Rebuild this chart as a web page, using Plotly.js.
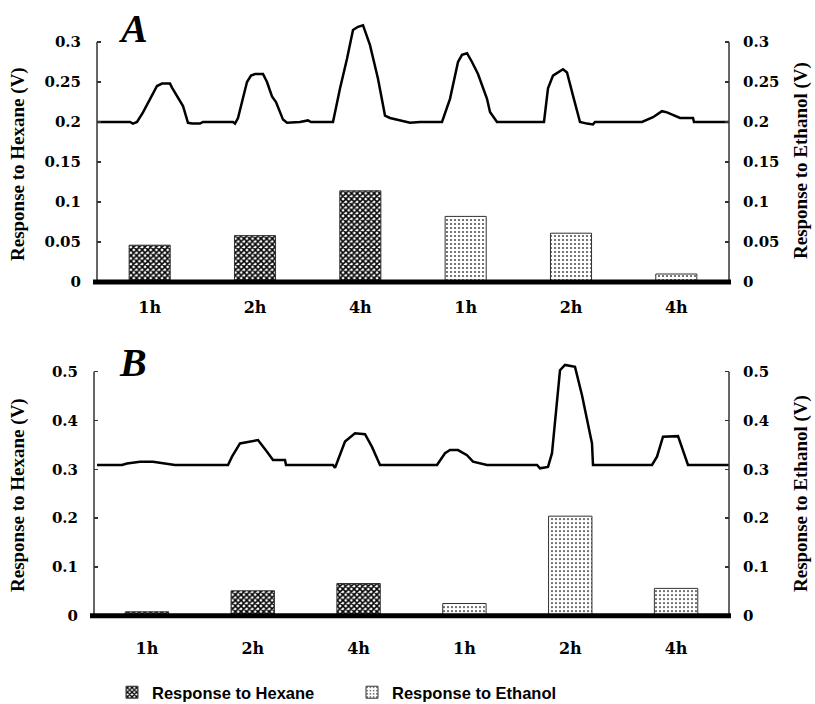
<!DOCTYPE html>
<html>
<head>
<meta charset="utf-8">
<script src="https://cdn.plot.ly/plotly-3.0.1.min.js"></script>
<style>
  html, body { margin: 0; padding: 0; background: #fff; }
  #chart { width: 815px; height: 704px; }
</style>
</head>
<body>
<div id="chart"></div>
<script>
// Sensor responses after 1, 2 and 4 h exposure, two samples (A, B)
const categories = ['1h', '2h', '4h', '1h', '2h', '4h'];
const hexanePos = [0, 1, 2];
const ethanolPos = [3, 4, 5];

// Panel A bar heights (V)
const hexaneA = [0.046, 0.058, 0.114];
const ethanolA = [0.082, 0.061, 0.010];
// Panel B bar heights (V)
const hexaneB = [0.008, 0.051, 0.066];
const ethanolB = [0.025, 0.204, 0.056];

// Raw sensor trace, panel A (time index, volts)
const traceTimeA = [0, 33, 36, 40, 46, 60, 65, 73, 75, 83, 86, 91, 95, 103, 106,
  136, 138, 141, 150, 154, 158, 166, 170, 175, 179, 186, 190, 203, 211, 214,
  235, 236, 243, 250, 256, 261, 266, 273, 281, 288, 293, 303, 313, 323,
  345, 353, 361, 365, 370, 375, 381, 390, 393, 400,
  447, 451, 456, 466, 470, 476, 483, 490, 496, 498,
  545, 556, 565, 570, 583, 596, 597, 632];
const traceVoltA = [0.2, 0.2, 0.198, 0.2, 0.212, 0.245, 0.248, 0.248, 0.243, 0.225, 0.22, 0.199, 0.198, 0.198, 0.2,
  0.2, 0.198, 0.205, 0.25, 0.258, 0.26, 0.26, 0.25, 0.232, 0.225, 0.203, 0.199, 0.2, 0.202, 0.2,
  0.2, 0.2, 0.242, 0.279, 0.315, 0.319, 0.321, 0.296, 0.254, 0.208, 0.205, 0.202, 0.199, 0.2,
  0.2, 0.229, 0.275, 0.284, 0.286, 0.275, 0.26, 0.229, 0.2125, 0.2,
  0.2, 0.242, 0.258, 0.266, 0.262, 0.233, 0.2, 0.198, 0.197, 0.2,
  0.2, 0.206, 0.2135, 0.212, 0.205, 0.205, 0.2, 0.2];

// Raw sensor trace, panel B (time index, volts)
const traceTimeB = [3, 28, 33, 46, 59, 69, 81,
  134, 138, 146, 156, 164, 173, 179, 191, 192,
  239, 241, 244, 251, 261, 271, 278, 286,
  343, 351, 356, 364, 373, 379, 393,
  443, 446, 454, 458, 463, 466, 471, 481, 488, 493, 498, 499,
  558, 563, 569, 584, 594, 635];
const traceVoltB = [0.309, 0.309, 0.312, 0.3156, 0.3156, 0.313, 0.309,
  0.309, 0.326, 0.353, 0.357, 0.36, 0.336, 0.319, 0.319, 0.309,
  0.309, 0.303, 0.319, 0.357, 0.374, 0.372, 0.346, 0.309,
  0.309, 0.333, 0.3395, 0.3395, 0.329, 0.3156, 0.309,
  0.309, 0.302, 0.305, 0.333, 0.442, 0.503, 0.514, 0.51, 0.452, 0.401, 0.353, 0.309,
  0.309, 0.326, 0.367, 0.368, 0.309, 0.309];

// Axis ticks
const tickValsA = [0, 0.05, 0.1, 0.15, 0.2, 0.25, 0.3];
const tickTextA = ['0', '0.05', '0.1', '0.15', '0.2', '0.25', '0.3'];
const tickValsB = [0, 0.1, 0.2, 0.3, 0.4, 0.5];
const tickTextB = ['0', '0.1', '0.2', '0.3', '0.4', '0.5'];

const W = 815, H = 704;
const px = v => v / W;
const py = v => 1 - v / H;

// Plot frames (pixels)
const frameA = { left: 97, right: 729, bottom: 282, top: 18, yMax: 0.33 };
const frameB = { left: 94, right: 729, bottom: 615.7, top: 357.1, yMax: 0.53 };
// paper y of a value inside a frame
const valToPaper = (f, v) => py(f.bottom - v * (f.bottom - f.top) / f.yMax);

const hexPattern = { shape: 'x', size: 4, solidity: 0.62, fgcolor: '#000', bgcolor: '#fff' };
const ethPattern = { shape: '.', size: 4, solidity: 0.24, fgcolor: '#555', bgcolor: '#fff' };
const barLine = { color: '#333', width: 1 };

const traces = [
  { type: 'bar', name: 'Response to Hexane', x: hexanePos, y: hexaneA, xaxis: 'x', yaxis: 'y',
    width: 0.39, marker: { color: '#fff', pattern: hexPattern, line: barLine }, legendgroup: 'h' },
  { type: 'bar', name: 'Response to Ethanol', x: ethanolPos, y: ethanolA, xaxis: 'x', yaxis: 'y',
    width: 0.39, marker: { color: '#fff', pattern: ethPattern, line: barLine }, legendgroup: 'e' },
  { type: 'scatter', mode: 'lines', x: traceTimeA, y: traceVoltA, xaxis: 'x2', yaxis: 'y2',
    line: { color: '#000', width: 2.5 }, showlegend: false },
  { type: 'bar', name: 'Response to Hexane', x: hexanePos, y: hexaneB, xaxis: 'x3', yaxis: 'y3',
    width: 0.41, marker: { color: '#fff', pattern: hexPattern, line: barLine }, legendgroup: 'h', showlegend: false },
  { type: 'bar', name: 'Response to Ethanol', x: ethanolPos, y: ethanolB, xaxis: 'x3', yaxis: 'y3',
    width: 0.41, marker: { color: '#fff', pattern: ethPattern, line: barLine }, legendgroup: 'e', showlegend: false },
  { type: 'scatter', mode: 'lines', x: traceTimeB, y: traceVoltB, xaxis: 'x4', yaxis: 'y4',
    line: { color: '#000', width: 2.5 }, showlegend: false }
];

const tickFont = { family: 'DejaVu Serif', size: 15, color: '#000', weight: 'bold' };
const catFont = { family: 'DejaVu Serif', size: 16, color: '#000', weight: 'bold' };

function catAxis(domain, anchor, standoff) {
  return { domain: domain, anchor: anchor, range: [-0.5, 5.5], tickmode: 'array',
    tickvals: [0, 1, 2, 3, 4, 5], ticktext: categories, ticks: '', showline: false,
    showgrid: false, zeroline: false, tickfont: catFont, ticklabelstandoff: standoff, fixedrange: true };
}
function timeAxis(over, anchor, range) {
  return { overlaying: over, anchor: anchor, range: range, visible: false, fixedrange: true };
}
function valAxis(domain, anchor, range, vals, text, side, over) {
  const a = { domain: domain, anchor: anchor, range: range, tickmode: 'array', tickvals: vals,
    ticktext: text, ticks: 'inside', ticklen: 4, tickwidth: 1.5, tickcolor: '#333',
    showline: false, showgrid: false, zeroline: false, tickfont: tickFont, side: side,
    ticklabelstandoff: side === 'left' ? 15 : 13, fixedrange: true };
  if (over) a.overlaying = over;
  return a;
}

const domAx = [px(frameA.left), px(frameA.right)];
const domBx = [px(frameB.left), px(frameB.right)];
const domAy = [py(frameA.bottom), py(frameA.top)];
const domBy = [py(frameB.bottom), py(frameB.top)];

const axisLine = { color: '#333', width: 1.5 };
function frameLines(f, yTop) {
  const y0 = py(f.bottom), y1 = valToPaper(f, yTop);
  return [
    { type: 'line', xref: 'paper', yref: 'paper', x0: px(f.left), x1: px(f.left), y0: y0, y1: y1, line: axisLine },
    { type: 'line', xref: 'paper', yref: 'paper', x0: px(f.right), x1: px(f.right), y0: y0, y1: y1, line: axisLine },
    { type: 'line', xref: 'paper', yref: 'paper', x0: px(f.left - 4), x1: px(f.right + 2), y0: y0, y1: y0,
      line: { color: '#000', width: 5 } }
  ];
}
const shapes = frameLines(frameA, 0.3).concat(frameLines(frameB, 0.5));

const titleFont = { family: 'Liberation Serif', size: 19, color: '#000', weight: 'bold' };
const letterFont = { family: 'Liberation Serif', size: 40, color: '#000', weight: 'bold', style: 'italic' };
function label(text, x, y, angle, font) {
  return { text: text, x: px(x), y: py(y), xref: 'paper', yref: 'paper', xanchor: 'center',
    yanchor: 'middle', textangle: angle, showarrow: false, font: font };
}
const annotations = [
  label('Response to Hexane (V)', 18, 164, -90, titleFont),
  label('Response to Ethanol (V)', 801, 161, -90, titleFont),
  label('Response to Hexane (V)', 18, 495, -90, titleFont),
  label('Response to Ethanol (V)', 801, 494, -90, titleFont),
  label('A', 133, 28, 0, letterFont),
  label('B', 133, 362, 0, letterFont)
];

const layout = {
  width: W, height: H,
  margin: { l: 0, r: 0, t: 0, b: 0, autoexpand: false },
  paper_bgcolor: '#fff', plot_bgcolor: 'rgba(0,0,0,0)',
  barmode: 'overlay',
  showlegend: true,
  legend: { orientation: 'h', x: px(112), xanchor: 'left', y: py(675), yanchor: 'top',
    font: { family: 'Liberation Sans', size: 16.5, color: '#000', weight: 'bold' },
    entrywidth: 195, entrywidthmode: 'pixels', bgcolor: 'rgba(0,0,0,0)', traceorder: 'normal' },
  xaxis: catAxis(domAx, 'y', 14),
  xaxis2: timeAxis('x', 'y2', [0, 632]),
  xaxis3: catAxis(domBx, 'y3', 21),
  xaxis4: timeAxis('x3', 'y4', [0, 635]),
  yaxis: valAxis(domAy, 'x', [0, frameA.yMax], tickValsA, tickTextA, 'left'),
  yaxis2: valAxis(domAy, 'x', [0, frameA.yMax], tickValsA, tickTextA, 'right', 'y'),
  yaxis3: valAxis(domBy, 'x3', [0, frameB.yMax], tickValsB, tickTextB, 'left'),
  yaxis4: valAxis(domBy, 'x3', [0, frameB.yMax], tickValsB, tickTextB, 'right', 'y3'),
  shapes: shapes,
  annotations: annotations
};

Plotly.newPlot('chart', traces, layout, { staticPlot: true, displayModeBar: false });
</script>
</body>
</html>
